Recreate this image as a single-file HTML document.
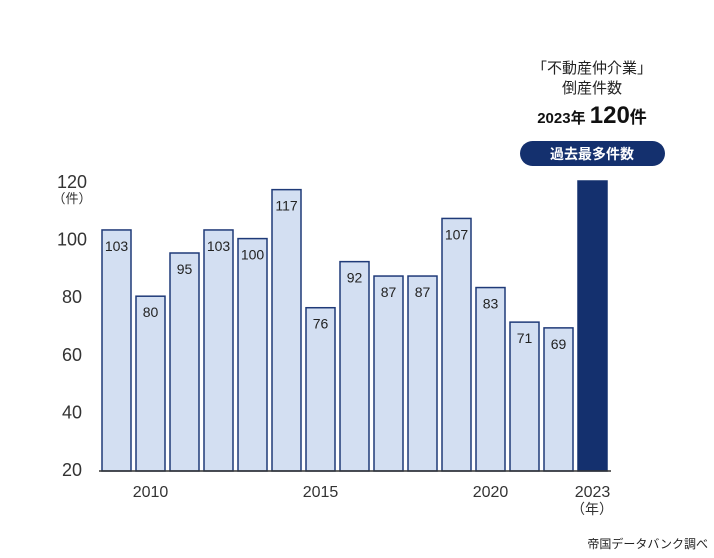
<!DOCTYPE html>
<html><head><meta charset="utf-8">
<style>
body{margin:0;background:#fff;width:714px;height:553px;overflow:hidden;font-family:"Liberation Sans","Noto Sans CJK JP",sans-serif;}
svg text{font-family:"Liberation Sans","Noto Sans CJK JP",sans-serif;}
</style></head>
<body>
<svg id="chart" width="714" height="553" viewBox="0 0 714 553" xmlns="http://www.w3.org/2000/svg">
<g id="yaxis"></g>
<g id="bars"></g>
<g id="xaxis"></g>
<line x1="99" y1="471" x2="611" y2="471" stroke="#333" stroke-width="1.5"/>
<text x="72" y="203" font-size="13" fill="#333" text-anchor="middle">（件）</text>
<text x="592" y="514" font-size="14" fill="#333" text-anchor="middle">（年）</text>
<g>
<text x="592" y="73" font-size="15" fill="#222" text-anchor="middle">「不動産仲介業」</text>
<text x="592" y="93" font-size="15" fill="#222" text-anchor="middle">倒産件数</text>
<text x="592" y="123" fill="#111" text-anchor="middle"><tspan font-size="15" font-weight="bold">2023年 </tspan><tspan font-size="24" font-weight="bold">120</tspan><tspan font-size="17" font-weight="bold">件</tspan></text>
<rect x="520" y="141" width="145" height="25" rx="12.5" fill="#14306e"/>
<text x="592" y="159" font-size="14" font-weight="bold" fill="#fff" text-anchor="middle">過去最多件数</text>
</g>
<text x="708" y="548" font-size="12" fill="#222" text-anchor="end">帝国データバンク調べ</text>
</svg>
<script>
const years=[2009,2010,2011,2012,2013,2014,2015,2016,2017,2018,2019,2020,2021,2022,2023];
const counts=[103,80,95,103,100,117,76,92,87,87,107,83,71,69,120];
const yTicks=[20,40,60,80,100,120];
const xTickLabels=[2010,2015,2020,2023];
const NS="http://www.w3.org/2000/svg";
function y(v){return 469-(v-20)*2.88;}
function x(i){return 102+i*34;}
const BW=29;
function mk(tag,attrs,parent,txt){const e=document.createElementNS(NS,tag);for(const k in attrs)e.setAttribute(k,attrs[k]);if(txt!==undefined)e.textContent=txt;parent.appendChild(e);return e;}
const ya=document.getElementById('yaxis'),bg=document.getElementById('bars'),xa=document.getElementById('xaxis');
yTicks.forEach(t=>{
 const e=mk('text',{x:72,y:y(t)+7,'font-size':18,fill:'#333','text-anchor':'middle'},ya,String(t));
 
 
});
counts.forEach((v,i)=>{
 const last=i===counts.length-1;
 const r=mk('rect',{x:x(i),y:y(v),width:BW,height:471-y(v),fill:last?'#14306e':'#d3dff2',stroke:last?'#14306e':'#1f3a78','stroke-width':1.5},bg);
 
 
 if(!last){
  const tt=mk('text',{x:x(i)+BW/2,y:y(v)+21,'font-size':14,fill:'#222','text-anchor':'middle'},bg,String(v));
  
  
 }
});
xTickLabels.forEach(yr=>{
 const i=years.indexOf(yr);
 const e=mk('text',{x:x(i)+BW/2,y:497,'font-size':16,fill:'#333','text-anchor':'middle'},xa,String(yr));
 
 
});
</script>
</body></html>
